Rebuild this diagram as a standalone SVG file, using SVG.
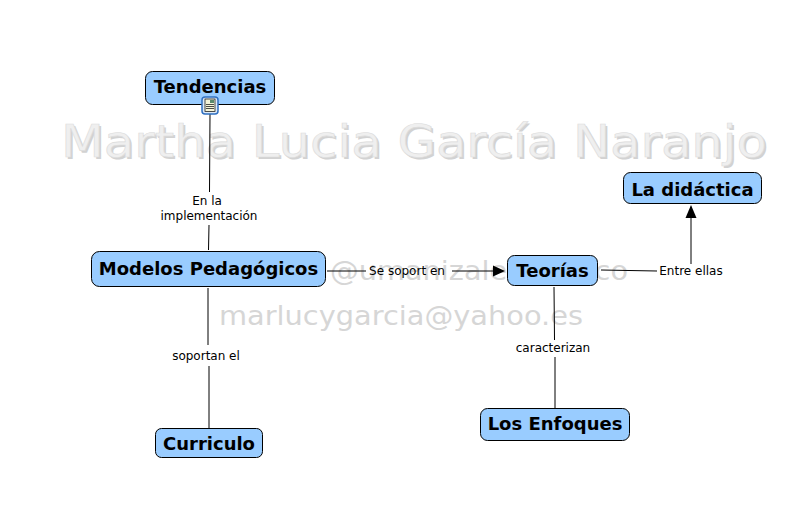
<svg xmlns="http://www.w3.org/2000/svg" width="802" height="532" viewBox="0 0 802 532">
<style>
.n{fill:#99ccff;stroke:#000;stroke-width:1}
.t{font-family:"DejaVu Sans",Verdana,sans-serif;font-weight:bold;font-size:18px;fill:#000;text-anchor:middle}
.l{font-family:"DejaVu Sans",Verdana,sans-serif;font-size:12px;fill:#000;text-anchor:middle}
.c{stroke:#000;stroke-width:1;fill:none}
.w{font-family:"DejaVu Sans",Verdana,sans-serif;text-anchor:middle}
</style>
<rect width="802" height="532" fill="#fff"/>
<g id="watermark">
<text class="w" x="416" y="159" font-size="45" fill="#d2d2d2" textLength="706" lengthAdjust="spacingAndGlyphs">Martha Lucia García Naranjo</text>
<text class="w" x="414" y="157" font-size="45" fill="#efefef" stroke="#dcdcdc" stroke-width="0.600" textLength="706" lengthAdjust="spacingAndGlyphs">Martha Lucia García Naranjo</text>
<text class="w" x="479" y="280" font-size="26" fill="#d6d6d6" textLength="298" lengthAdjust="spacingAndGlyphs">@umanizales.edu.co</text>
<text class="w" x="401" y="325" font-size="26" fill="#d6d6d6" textLength="364" lengthAdjust="spacingAndGlyphs">marlucygarcia@yahoo.es</text>
</g>
<g id="connectors">
<path class="c" d="M210 114L209.500 192M209 225L208.500 250"/>
<path class="c" d="M208 288V345M209 366V428"/>
<path class="c" d="M327 271H366M452 271H495"/>
<path d="M505 271L493 265.500V276.500Z"/>
<path class="c" d="M601 270L657 271M691 264V216"/>
<path d="M691 205L685.500 218H696.500Z"/>
<path class="c" d="M554 287L554.500 340M555 357V408"/>
</g>
<g id="label-en-la"><text class="l" x="207" y="205">En la</text><text class="l" x="209" y="220">implementación</text></g>
<g id="label-soportan"><text class="l" x="206" y="360">soportan el</text></g>
<g id="label-se-soport"><text class="l" x="407" y="275">Se soport en</text></g>
<g id="label-entre"><text class="l" x="691" y="275">Entre ellas</text></g>
<g id="label-caracterizan"><text class="l" x="553" y="352">caracterizan</text></g>
<g id="tendencias"><rect class="n" x="145.500" y="71.500" width="129" height="33" rx="7"/><text class="t" x="210" y="93">Tendencias</text>
<g id="icon"><rect x="202" y="97" width="16" height="17" rx="3" fill="#dce9f7" stroke="#2f6fc0" stroke-width="1.500"/><rect x="205" y="99" width="10" height="12.500" fill="#f4f4d8" stroke="#222" stroke-width="0.800"/><path d="M206 104.500h8M206 106.500h8M206 108.500h8" stroke="#222" stroke-width="0.800"/><rect x="210" y="100" width="4" height="3" fill="#5a8a6a"/></g></g>
<g id="modelos"><rect class="n" x="91.500" y="251.500" width="234" height="35" rx="8"/><text class="t" x="208.500" y="275">Modelos Pedagógicos</text></g>
<g id="curriculo"><rect class="n" x="155.500" y="428.500" width="107" height="29" rx="6"/><text class="t" x="209" y="450">Curriculo</text></g>
<g id="teorias"><rect class="n" x="507.500" y="255.500" width="90" height="30" rx="7"/><text class="t" x="552.500" y="277">Teorías</text></g>
<g id="didactica"><rect class="n" x="623.500" y="172.500" width="138" height="31" rx="7"/><text class="t" x="692.500" y="196">La didáctica</text></g>
<g id="enfoques"><rect class="n" x="480.500" y="408.500" width="149" height="32" rx="7"/><text class="t" x="555" y="430">Los Enfoques</text></g>
</svg>
